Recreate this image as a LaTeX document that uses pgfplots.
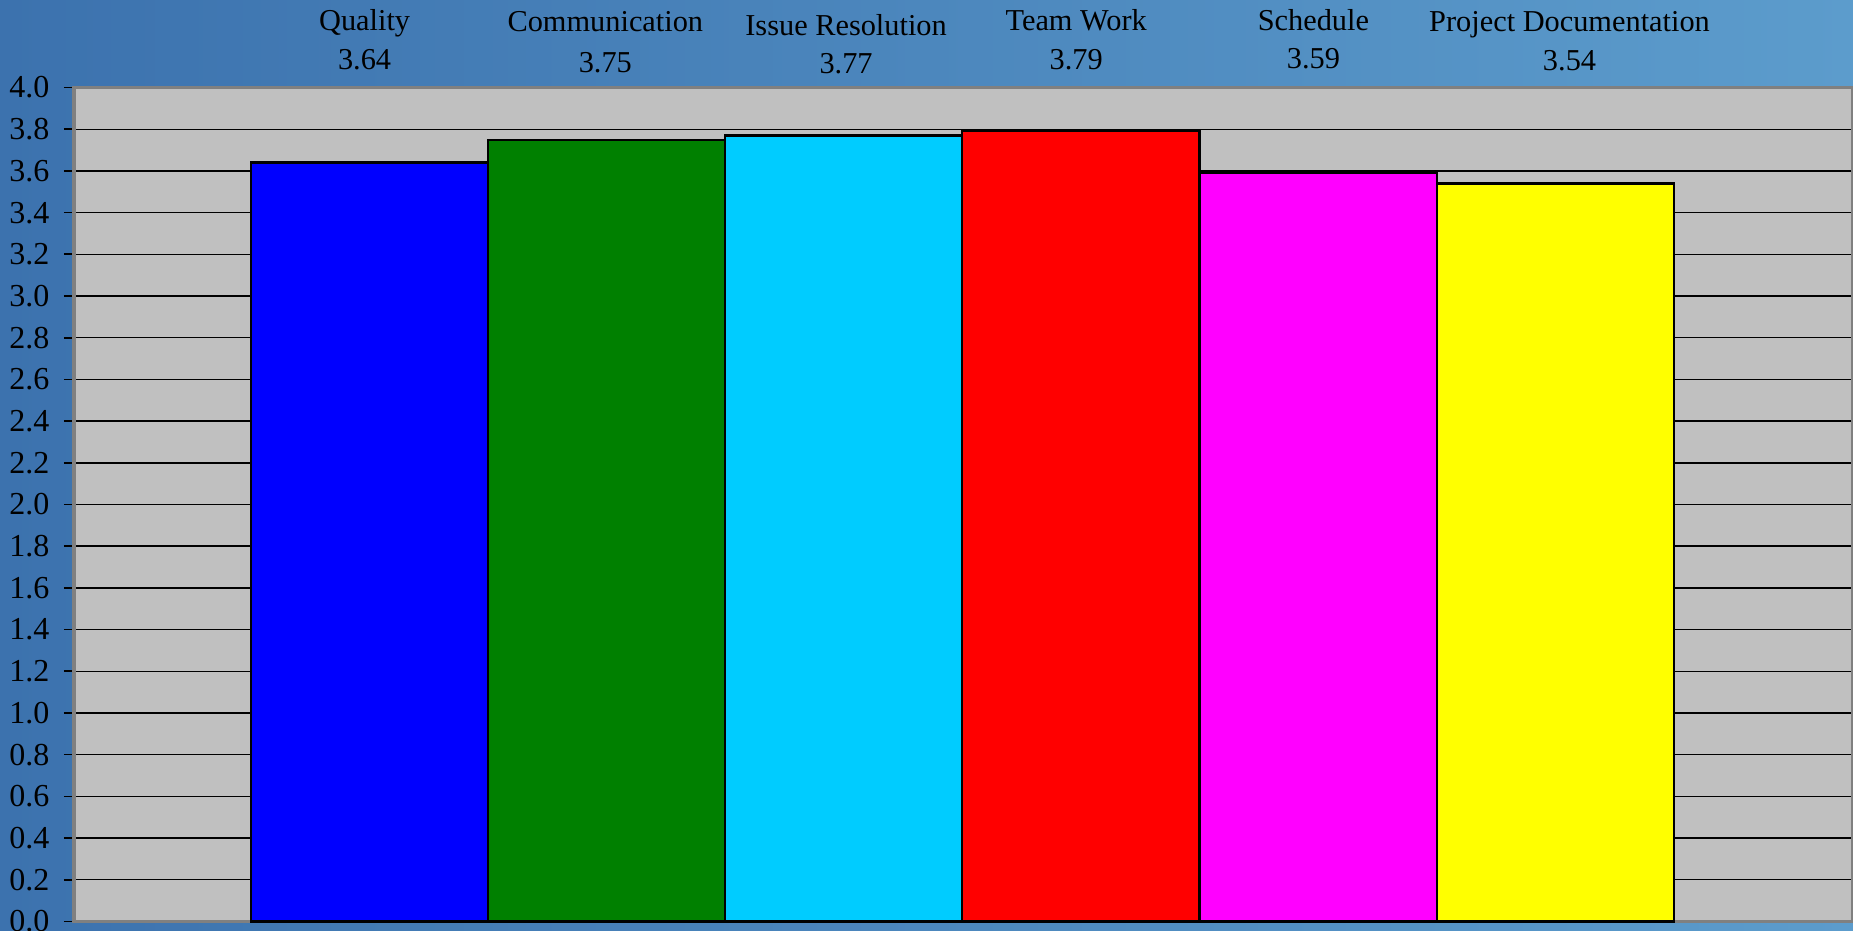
\documentclass[border=0pt]{standalone}
\usepackage{pgfplots}
\pgfplotsset{compat=1.18}
\usepackage{fontspec}
\setmainfont{Liberation Serif}
\definecolor{bgleft}{RGB}{60,114,174}
\definecolor{bgright}{RGB}{92,156,204}
\definecolor{plotgray}{RGB}{192,192,192}
\definecolor{barblue}{RGB}{0,0,255}
\definecolor{bargreen}{RGB}{0,128,0}
\definecolor{barcyan}{RGB}{0,204,255}
\definecolor{barred}{RGB}{255,0,0}
\definecolor{barmagenta}{RGB}{255,0,255}
\definecolor{baryellow}{RGB}{255,255,0}
\begin{document}
\begin{tikzpicture}
% backdrop, also the page size
\useasboundingbox (-6.26mm,-0.8mm) rectangle (150.4mm,77.9mm);
\shade[left color=bgleft, right color=bgright] (-6.26mm,-0.8mm) rectangle (150.4mm,77.9mm);
\begin{axis}[
  scale only axis,
  width=150.4mm, height=70.5mm,
  at={(0,0)}, anchor=south west,
  xmin=-1.245, xmax=6.255,
  ymin=0, ymax=4,
  ytick={0,0.2,...,4.01},
  /pgf/number format/fixed,
  /pgf/number format/fixed zerofill,
  /pgf/number format/precision=1,
  /pgf/number format/assume math mode=true,
  xtick=\empty,
  ymajorgrids,
  grid style={black, line width=0.35pt},
  axis background/.style={fill=plotgray},
  axis line style={draw=black!50, line width=0.8pt},
  tick style={black, line width=0.4pt},
  major tick length=0.85mm,
  tick align=outside,
  ytick pos=left,
  tick label style={font=\fontsize{7.7}{8}\selectfont},
  clip=false,
]
\addplot[ybar, bar width=1, fill=barblue, draw=black, line width=0.55pt] coordinates {(0,3.64)};
\addplot[ybar, bar width=1, fill=bargreen, draw=black, line width=0.55pt] coordinates {(1,3.75)};
\addplot[ybar, bar width=1, fill=barcyan, draw=black, line width=0.55pt] coordinates {(2,3.77)};
\addplot[ybar, bar width=1, fill=barred, draw=black, line width=0.55pt] coordinates {(3,3.79)};
\addplot[ybar, bar width=1, fill=barmagenta, draw=black, line width=0.55pt] coordinates {(4,3.59)};
\addplot[ybar, bar width=1, fill=baryellow, draw=black, line width=0.55pt] coordinates {(5,3.54)};
% category names and values above the plot
\begin{scope}[font=\fontsize{7.3}{8}\selectfont, every node/.style={anchor=base, inner sep=0pt}]
\node at (axis cs:-0.02,4) [yshift=4.8mm] {Quality};
\node at (axis cs:-0.02,4) [yshift=1.5mm] {3.64};
\node at (axis cs:0.995,4) [yshift=4.7mm] {Communication};
\node at (axis cs:0.995,4) [yshift=1.3mm] {3.75};
\node at (axis cs:2.01,4) [yshift=4.4mm] {Issue Resolution};
\node at (axis cs:2.01,4) [yshift=1.2mm] {3.77};
\node at (axis cs:2.98,4) [yshift=4.8mm] {Team Work};
\node at (axis cs:2.98,4) [yshift=1.5mm] {3.79};
\node at (axis cs:3.98,4) [yshift=4.8mm] {Schedule};
\node at (axis cs:3.98,4) [yshift=1.6mm] {3.59};
\node at (axis cs:5.06,4) [yshift=4.7mm] {Project Documentation};
\node at (axis cs:5.06,4) [yshift=1.4mm] {3.54};
\end{scope}
\end{axis}
\end{tikzpicture}
\end{document}
